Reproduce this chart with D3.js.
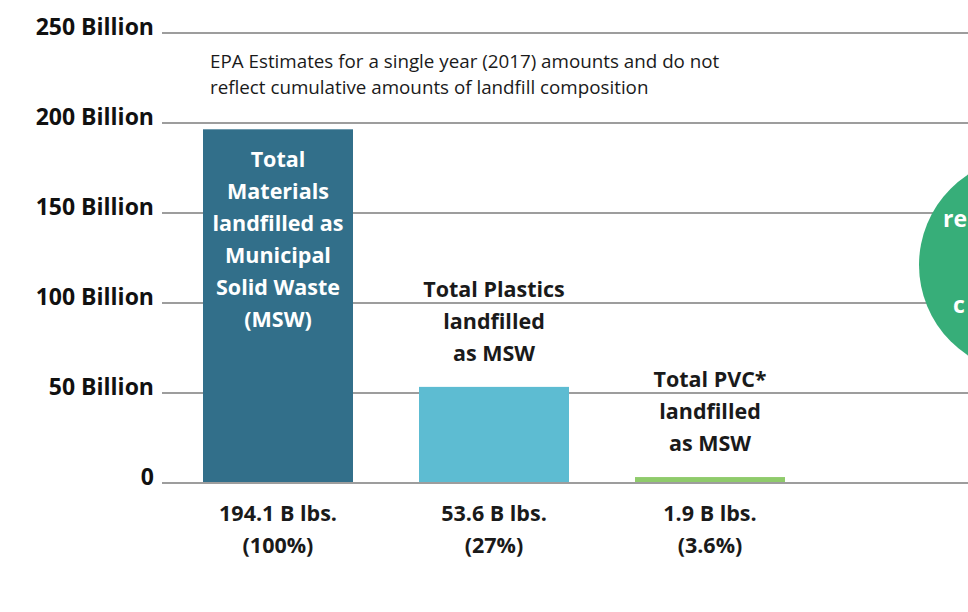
<!DOCTYPE html>
<html>
<head>
<meta charset="utf-8">
<script src="https://cdn.jsdelivr.net/npm/d3@7"></script>
<style>
  body { margin: 0; background: #fff; }
  svg { display: block; font-family: "Open Sans", sans-serif; }
</style>
</head>
<body>
<svg id="chart" width="968" height="612"></svg>
<script>
// data
var categories = ["msw", "plastics", "pvc"];
var values = [196.5, 53.4, 3.3];          // billion lbs, as drawn
var barColors = ["#326f8a", "#5dbcd2", "#8fcb6b"];
var ticks = [0, 50, 100, 150, 200, 250];
var tickLabels = ["0", "50 Billion", "100 Billion", "150 Billion", "200 Billion", "250 Billion"];
var insideLabels = [["Total", "Materials", "landfilled as", "Municipal", "Solid Waste", "(MSW)"], [], []];
var aboveLabels = [[], ["Total Plastics", "landfilled", "as MSW"], ["Total PVC*", "landfilled", "as MSW"]];
var bottomLabels = [["194.1 B lbs.", "(100%)"], ["53.6 B lbs.", "(27%)"], ["1.9 B lbs.", "(3.6%)"]];
var note = ["EPA Estimates for a single year (2017) amounts and do not",
            "reflect cumulative amounts of landfill composition"];
var circleText = ["re", "c"];

var svg = d3.select("#chart");

var y = d3.scaleLinear().domain([0, 250]).range([483, 33]);
var x = d3.scaleBand().domain(categories).range([203, 785]).paddingInner(66 / 216);

// grid + tick labels
var grid = svg.append("g");
grid.selectAll("line").data(ticks).enter().append("line")
    .attr("x1", 162).attr("x2", 968)
    .attr("y1", d => y(d)).attr("y2", d => y(d))
    .style("stroke", "#9d9d9d").style("stroke-width", 2);
grid.selectAll("text").data(ticks).enter().append("text")
    .attr("x", 154).attr("y", d => y(d) + 2)
    .attr("text-anchor", "end")
    .style("font-size", "23px").style("font-weight", "bold").style("fill", "#111")
    .text((d, i) => tickLabels[i]);

// note
svg.append("g").selectAll("text").data(note).enter().append("text")
    .attr("x", 210).attr("y", (d, i) => 68 + i * 26)
    .style("font-size", "18.8px").style("fill", "#1a1a1a")
    .text(d => d);

// green circle on the right, cut by the edge
var circ = svg.append("g");
circ.append("circle").attr("cx", 1027).attr("cy", 265).attr("r", 108).style("fill", "#37ae79");
circ.selectAll("text").data(circleText).enter().append("text")
    .attr("x", (d, i) => i ? 953 : 943).attr("y", (d, i) => i ? 313 : 227)
    .style("font-size", "23px").style("font-weight", "bold").style("fill", "#fff")
    .text(d => d);

// bars
var bars = svg.append("g");
bars.selectAll("rect").data(categories).enter().append("rect")
    .attr("x", d => x(d))
    .attr("width", x.bandwidth())
    .attr("y", (d, i) => y(values[i]))
    .attr("height", (d, i) => y(0) - y(values[i]))
    .style("fill", (d, i) => barColors[i]);

// redraw zero line over bars
svg.append("line").attr("x1", 162).attr("x2", 968).attr("y1", y(0)).attr("y2", y(0))
    .style("stroke", "#9d9d9d").style("stroke-width", 2);

var lineH = 32;
categories.forEach(function(c, i) {
    var cx = x(c) + x.bandwidth() / 2;
    var g = svg.append("g").attr("text-anchor", "middle")
        .style("font-size", "21.5px").style("font-weight", "bold");
    insideLabels[i].forEach(function(t, k) {
        g.append("text").attr("x", cx).attr("y", y(values[i]) + 38 + k * lineH)
            .style("fill", "#fff").text(t);
    });
    var n = aboveLabels[i].length;
    aboveLabels[i].forEach(function(t, k) {
        g.append("text").attr("x", cx).attr("y", y(values[i]) - 26 - (n - 1 - k) * lineH)
            .style("fill", "#1a1a1a").text(t);
    });
    bottomLabels[i].forEach(function(t, k) {
        g.append("text").attr("x", cx).attr("y", 521 + k * lineH)
            .style("fill", "#1a1a1a").text(t);
    });
});
</script>
</body>
</html>
